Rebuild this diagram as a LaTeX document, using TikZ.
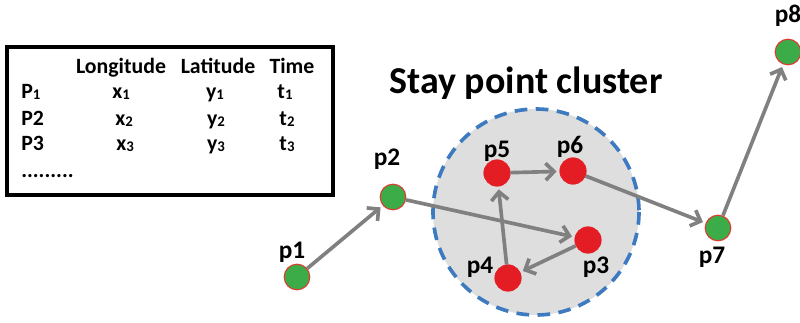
\documentclass[tikz,border=0pt]{standalone}
\usepackage{fontspec}
\setmainfont{Carlito}
\usetikzlibrary{arrows.meta}
\definecolor{ptgreen}{RGB}{60,172,72}
\definecolor{ptred}{RGB}{228,28,36}
\definecolor{ptborder}{RGB}{220,60,50}
\definecolor{clfill}{RGB}{222,222,222}
\definecolor{clblue}{RGB}{62,122,192}
\definecolor{arrgray}{RGB}{128,128,128}
\newcommand{\smallsub}[1]{\raisebox{-0.8pt}{\fontsize{10.5}{11}\selectfont #1}}
\tikzset{
  greenpt/.style={circle, fill=ptgreen, draw=ptborder, line width=0.8pt, minimum size=0.64cm, inner sep=0pt},
  redpt/.style={circle, fill=ptred, draw=ptred, line width=0.5pt, minimum size=0.66cm, inner sep=0pt},
  plabel/.style={anchor=base, inner sep=0pt, font=\fontsize{18}{19}\selectfont\bfseries},
  tabtext/.style={anchor=base, inner sep=0pt, font=\fontsize{15.5}{16}\selectfont\bfseries},
  arrowline/.style={draw=arrgray, line width=2.6pt, -{Straight Barb[length=6pt,width=12pt]}, shorten >=2pt, shorten <=0pt},
}
\begin{document}
\begin{tikzpicture}[x=0.025cm, y=-0.025cm]
\useasboundingbox (0,0) rectangle (800,322);
% table
\draw[line width=2.8pt, black] (7,47) rectangle (333,195);
\node[tabtext] (hlon) at (121,73) {Longitude};
\node[tabtext] (hlat) at (218,73) {Latitude};
\node[tabtext] (htime) at (292,73) {Time};
\node[tabtext, anchor=base west] (r1) at (21,98) {P\smallsub{1}};
\node[tabtext, anchor=base west] (r2) at (21,125) {P2};
\node[tabtext, anchor=base west] (r3) at (21,150) {P3};
\node[tabtext, anchor=base west] (rdots) at (21,177) {.........};
\node[tabtext] (x1) at (121,98) {x\smallsub{1}};
\node[tabtext] (x2) at (124,125) {x\smallsub{2}};
\node[tabtext] (x3) at (125,150) {x\smallsub{3}};
\node[tabtext] (y1) at (215,98) {y\smallsub{1}};
\node[tabtext] (y2) at (216,125) {y\smallsub{2}};
\node[tabtext] (y3) at (216,150) {y\smallsub{3}};
\node[tabtext] (t1) at (285,98) {t\smallsub{1}};
\node[tabtext] (t2) at (287,125) {t\smallsub{2}};
\node[tabtext] (t3) at (287,150) {t\smallsub{3}};
% cluster
\fill[clfill] (536,212) circle [radius=103];
\draw[clblue, line width=2.6pt, dash pattern=on 9pt off 6pt] (536,212) circle [radius=103];
\node[anchor=base, inner sep=0pt, font=\fontsize{27}{29}\selectfont\bfseries] (title) at (526,93) {Stay point cluster};
% points
\node[greenpt] (p1) at (297,277) {};
\node[greenpt] (p2) at (393,197) {};
\node[redpt] (p3) at (588,240) {};
\node[redpt] (p4) at (508,278) {};
\node[redpt] (p5) at (497,173) {};
\node[redpt] (p6) at (573,171) {};
\node[greenpt] (p7) at (718,228) {};
\node[greenpt] (p8) at (788,52) {};
% labels
\node[plabel] (l1) at (292,258) {p1};
\node[plabel] (l2) at (387,165) {p2};
\node[plabel] (l3) at (596,273) {p3};
\node[plabel] (l4) at (480,273) {p4};
\node[plabel] (l5) at (497,157) {p5};
\node[plabel] (l6) at (570,153) {p6};
\node[plabel] (l7) at (712,263) {p7};
\node[plabel] (l8) at (788,22) {p8};
% arrows
\draw[arrowline] (p1) -- (p2);
\draw[arrowline] (p2) -- (p3);
\draw[arrowline] (p3) -- (p4);
\draw[arrowline] (p4) -- (p5);
\draw[arrowline] (p5) -- (p6);
\draw[arrowline] (p6) -- (p7);
\draw[arrowline] (p7) -- (p8);
\end{tikzpicture}
\end{document}
